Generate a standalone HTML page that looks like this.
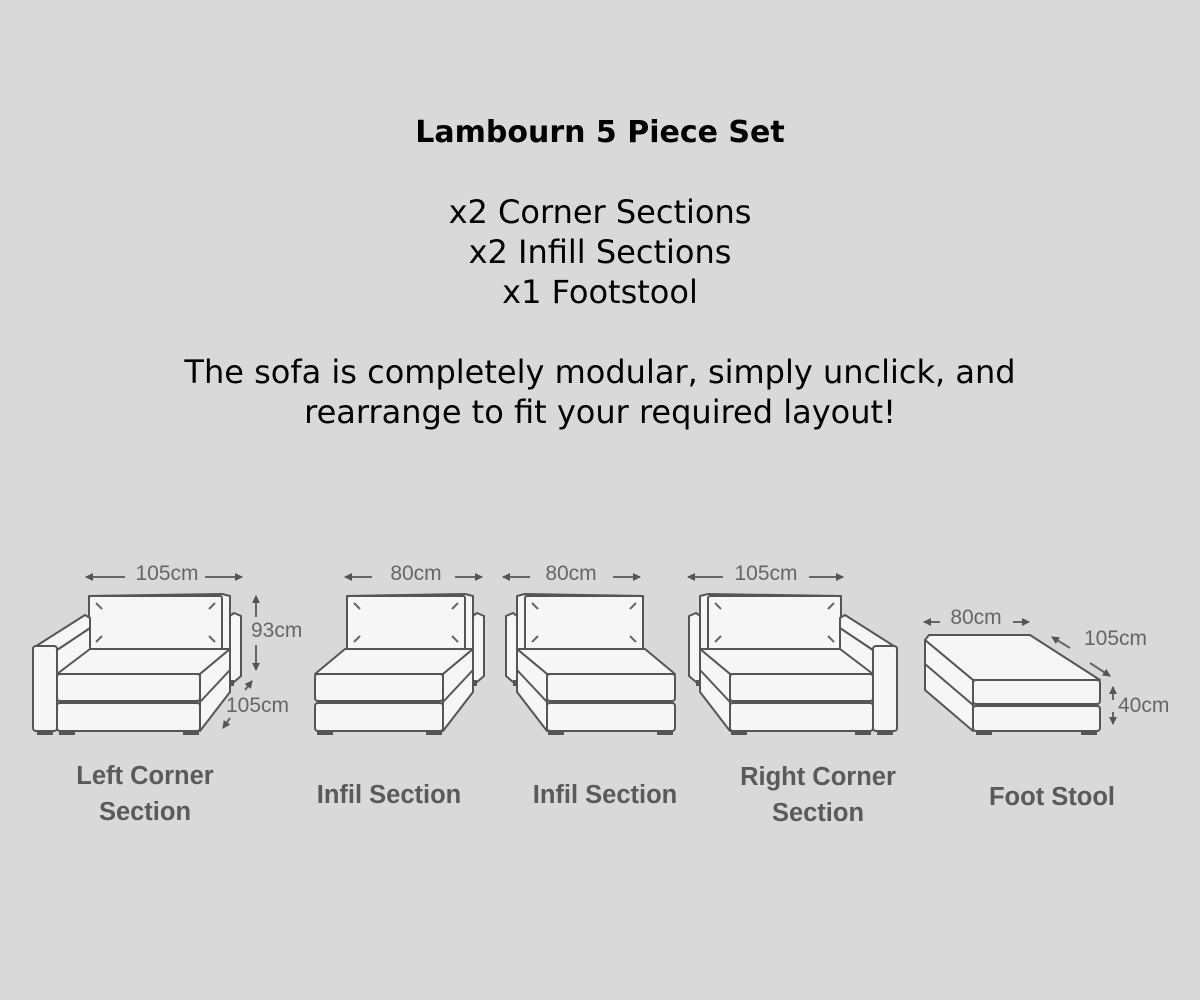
<!DOCTYPE html>
<html><head><meta charset="utf-8"><style>
html,body{margin:0;padding:0;background:#d9d9d9;width:1200px;height:1000px;overflow:hidden}
svg{display:block}
.t{font-family:"DejaVu Sans","Liberation Sans",sans-serif;fill:#000;text-anchor:middle}
.d{font-family:"Liberation Sans",sans-serif;fill:#666;font-size:21px}
.l{font-family:"Liberation Sans",sans-serif;fill:#5a5a5a;font-size:25.5px;font-weight:bold;text-anchor:middle}
.s{fill:#f6f6f6;stroke:#555;stroke-width:2;stroke-linejoin:round}
.ln{stroke:#666;stroke-width:2}
.ft{fill:#555}
</style></head><body>
<svg width="1200" height="1000" viewBox="0 0 1200 1000" xmlns="http://www.w3.org/2000/svg">
<defs>
<marker id="a" markerWidth="8" markerHeight="8" refX="7" refY="4" orient="auto-start-reverse" markerUnits="userSpaceOnUse"><path d="M0,0 L8,4 L0,8 Z" fill="#555"/></marker>
</defs>
<text class="t" x="600" y="142" font-size="30" font-weight="bold">Lambourn 5 Piece Set</text>
<text class="t" x="600" y="223" font-size="32">x2 Corner Sections</text>
<text class="t" x="600" y="263" font-size="32">x2 Infill Sections</text>
<text class="t" x="600" y="303" font-size="32">x1 Footstool</text>
<text class="t" x="600" y="383" font-size="32">The sofa is completely modular, simply unclick, and</text>
<text class="t" x="600" y="423" font-size="32">rearrange to fit your required layout!</text>

<g id="g"></g>

<text class="d" x="167" y="580" text-anchor="middle">105cm</text>
<line class="ln" x1="125" y1="577" x2="86" y2="577" marker-end="url(#a)"/>
<line class="ln" x1="205" y1="577" x2="242" y2="577" marker-end="url(#a)"/>
<line class="ln" x1="256" y1="617" x2="256" y2="596" marker-end="url(#a)"/>
<line class="ln" x1="256" y1="645" x2="256" y2="670" marker-end="url(#a)"/>
<text class="d" x="251" y="637">93cm</text>
<line class="ln" x1="245" y1="690" x2="252" y2="681" marker-end="url(#a)"/>
<line class="ln" x1="230" y1="718" x2="223" y2="728" marker-end="url(#a)"/>
<text class="d" x="226" y="712">105cm</text>

<text class="d" x="416" y="580" text-anchor="middle">80cm</text>
<line class="ln" x1="372" y1="577" x2="345" y2="577" marker-end="url(#a)"/>
<line class="ln" x1="455" y1="577" x2="482" y2="577" marker-end="url(#a)"/>
<text class="d" x="571" y="580" text-anchor="middle">80cm</text>
<line class="ln" x1="530" y1="577" x2="503" y2="577" marker-end="url(#a)"/>
<line class="ln" x1="613" y1="577" x2="640" y2="577" marker-end="url(#a)"/>
<text class="d" x="766" y="580" text-anchor="middle">105cm</text>
<line class="ln" x1="723" y1="577" x2="688" y2="577" marker-end="url(#a)"/>
<line class="ln" x1="809" y1="577" x2="843" y2="577" marker-end="url(#a)"/>

<text class="d" x="976" y="624" text-anchor="middle">80cm</text>
<line class="ln" x1="940" y1="622" x2="924" y2="622" marker-end="url(#a)"/>
<line class="ln" x1="1013" y1="622" x2="1029" y2="622" marker-end="url(#a)"/>
<text class="d" x="1084" y="645">105cm</text>
<line class="ln" x1="1070" y1="648" x2="1052" y2="637" marker-end="url(#a)"/>
<line class="ln" x1="1090" y1="663" x2="1110" y2="676" marker-end="url(#a)"/>
<line class="ln" x1="1113" y1="700" x2="1113" y2="687" marker-end="url(#a)"/>
<line class="ln" x1="1113" y1="712" x2="1113" y2="724" marker-end="url(#a)"/>
<text class="d" x="1118" y="712">40cm</text>

<text class="l" x="145" y="784">Left Corner</text>
<text class="l" x="145" y="820">Section</text>
<text class="l" x="389" y="803">Infil Section</text>
<text class="l" x="605" y="803">Infil Section</text>
<text class="l" x="818" y="785">Right Corner</text>
<text class="l" x="818" y="821">Section</text>
<text class="l" x="1052" y="805">Foot Stool</text>
</svg>
<script>
var g=document.getElementById('g');
function piece(x0,w,arm,mir){
 var dx=30,s='';
 var X=x0+w;
 s+='<polygon class="s" points="'+(X+dx-3)+',618 '+(X+dx+4)+',613 '+(X+dx+11)+',616 '+(X+dx+11)+',676 '+(X+dx+4)+',682 '+(X+dx-3)+',682"/>';
 s+='<rect class="ft" x="'+(X+dx-6)+'" y="680" width="10" height="6"/>';
 s+='<polygon class="s" points="'+(x0+dx+2)+',596 '+(X+dx-8)+',594 '+(X+dx)+',596 '+(X+dx)+',650 '+(x0+dx+2)+',650"/>';
 s+='<rect class="s" x="'+(x0+dx+2)+'" y="596" width="'+(w-10)+'" height="54" rx="2"/>';
 var bx=x0+dx+2,bw=w-10;
 [[bx+7,603,bx+13,609],[bx+bw-7,603,bx+bw-13,609],[bx+7,642,bx+13,636],[bx+bw-7,642,bx+bw-13,636]].forEach(function(l){s+='<line x1="'+l[0]+'" y1="'+l[1]+'" x2="'+l[2]+'" y2="'+l[3]+'" stroke="#666" stroke-width="2"/>';});
 s+='<polygon class="s" points="'+x0+',674 '+(x0+dx)+',649 '+(X+dx)+',649 '+X+',674"/>';
 s+='<polygon class="s" points="'+X+',674 '+(X+dx)+',649 '+(X+dx)+',692 '+X+',731"/>';
 s+='<line x1="'+X+'" y1="702" x2="'+(X+dx)+'" y2="670" stroke="#555" stroke-width="2"/>';
 s+='<rect class="s" x="'+x0+'" y="674" width="'+w+'" height="27" rx="3"/>';
 s+='<rect class="s" x="'+x0+'" y="703" width="'+w+'" height="28" rx="3"/>';
 s+='<rect class="ft" x="'+(x0+2)+'" y="731" width="16" height="4"/>';
 s+='<rect class="ft" x="'+(X-17)+'" y="731" width="16" height="4"/>';
 if(arm){
  s+='<polygon class="s" points="'+x0+',650 '+(x0+33)+',628 '+(x0+33)+',649 '+x0+',674"/>';
  s+='<polygon class="s" points="'+(x0-24)+',648 '+(x0+28)+',615 '+(x0+33)+',618 '+(x0+33)+',628 '+x0+',650 '+(x0-2)+',648"/>';
  s+='<rect class="s" x="'+(x0-24)+'" y="646" width="24" height="85" rx="3"/>';
  s+='<rect class="ft" x="'+(x0-20)+'" y="731" width="16" height="4"/>';
 }
 return '<g'+(mir!==undefined?' transform="translate('+(2*mir)+',0) scale(-1,1)"':'')+'>'+s+'</g>';
}
var h='';
h+=piece(57,143,true);
h+=piece(315,128,false);
h+=piece(315,128,false,495);
h+=piece(57,143,true,465);
h+='<polygon class="s" points="925,640 929,635 1030,635 1100,680 973,680"/>';
h+='<polygon class="s" points="925,640 973,680 973,731 925,690"/>';
h+='<line x1="925" y1="664" x2="973" y2="705" stroke="#555" stroke-width="2"/>';
h+='<rect class="s" x="973" y="680" width="127" height="24" rx="3"/>';
h+='<rect class="s" x="973" y="706" width="127" height="25" rx="3"/>';
h+='<rect class="ft" x="976" y="731" width="16" height="4"/><rect class="ft" x="1081" y="731" width="16" height="4"/>';
g.innerHTML=h;
</script>
</body></html>
